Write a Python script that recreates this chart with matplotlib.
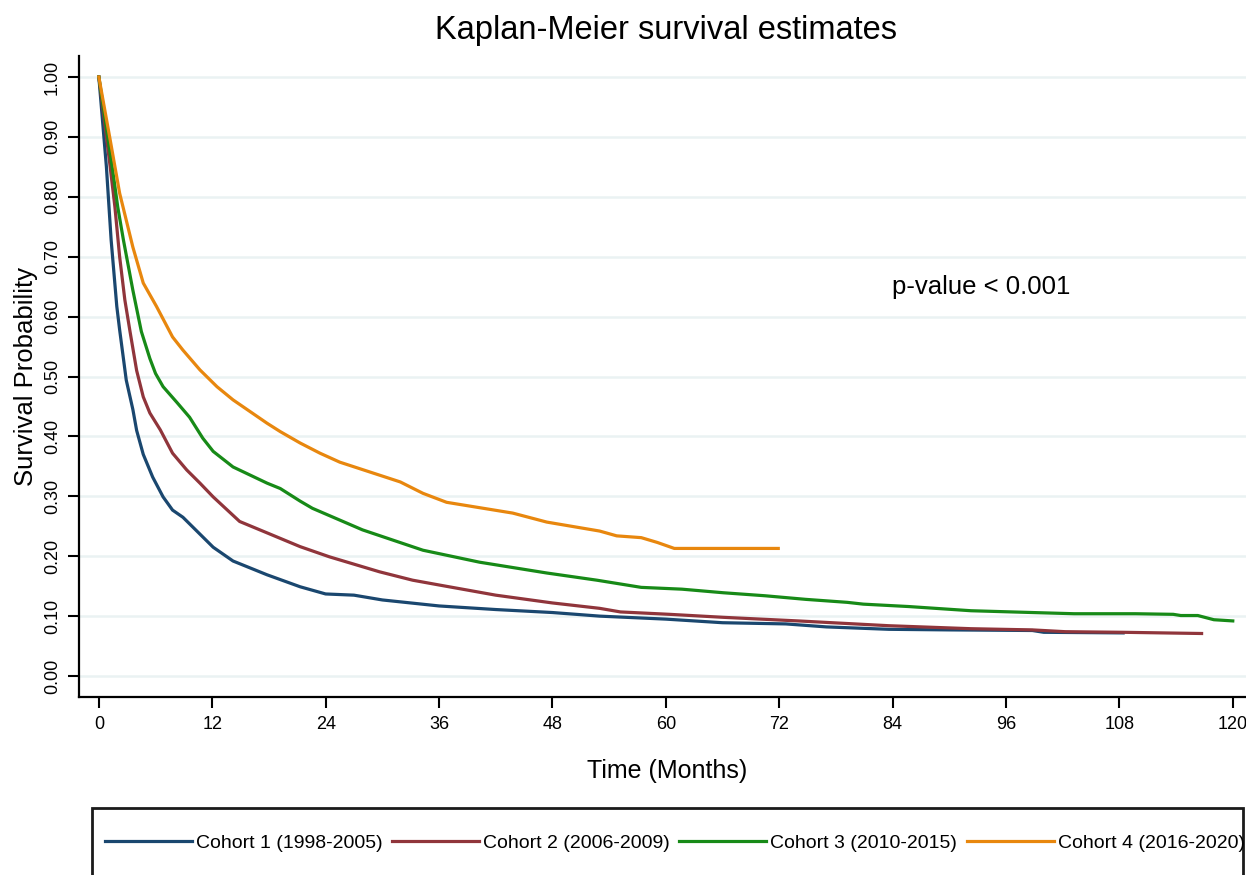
import numpy as np
import matplotlib
matplotlib.use('Agg')
import matplotlib.pyplot as plt
from matplotlib.patches import Rectangle

plt.rcParams['font.family'] = ['Liberation Sans', 'DejaVu Sans']

# Survival curves (months, survival probability)
t1 = [0, 0.8, 1.3, 1.9, 2.2, 2.9, 3.6, 4.0, 4.7, 5.7, 6.8, 7.8, 8.9, 10.5, 12.1, 14.2, 17.8, 21.3, 24, 27,
      30, 36, 42, 48, 53, 60, 66, 72.7, 77, 83.6, 90, 98.8, 100, 108.4]
s1 = [1.0, 0.85, 0.728, 0.617, 0.578, 0.494, 0.445, 0.41, 0.37, 0.332, 0.299, 0.277, 0.265, 0.24, 0.215,
      0.192, 0.169, 0.149, 0.137, 0.135, 0.127, 0.117, 0.111, 0.106, 0.100, 0.095, 0.089, 0.087, 0.082,
      0.078, 0.077, 0.076, 0.073, 0.072]

t2 = [0, 1.2, 1.7, 2.2, 2.75, 3.3, 4.0, 4.7, 5.4, 6.5, 7.8, 9.3, 10.7, 12.1, 14.9, 17.8, 21.3, 24.4, 29.7,
      33.2, 36, 42, 48, 53, 55.2, 60.4, 66.1, 74, 83.6, 92.3, 98.8, 102.3, 108.4, 116.7]
s2 = [1.0, 0.85, 0.783, 0.70, 0.628, 0.575, 0.51, 0.466, 0.439, 0.411, 0.372, 0.344, 0.322, 0.299, 0.258,
      0.239, 0.216, 0.199, 0.174, 0.160, 0.152, 0.135, 0.122, 0.113, 0.107, 0.103, 0.098, 0.092, 0.084,
      0.079, 0.077, 0.074, 0.073, 0.071]

t3 = [0, 1.5, 2.0, 2.6, 3.6, 4.5, 5.4, 6.0, 6.8, 8.3, 9.6, 11.0, 12.1, 14.2, 17.8, 19.2, 21.3, 22.6, 27.9,
      34.3, 40.3, 47.4, 52.7, 57.4, 61.7, 66.1, 70.5, 74.8, 79.2, 80.9, 85.7, 92.3, 98.8, 103.2, 109.7,
      113.7, 114.5, 116.3, 118, 120]
s3 = [1.0, 0.84, 0.783, 0.728, 0.644, 0.575, 0.53, 0.505, 0.483, 0.456, 0.432, 0.397, 0.375, 0.349, 0.322,
      0.313, 0.292, 0.280, 0.244, 0.210, 0.190, 0.172, 0.160, 0.148, 0.145, 0.139, 0.134, 0.128, 0.123,
      0.120, 0.116, 0.109, 0.106, 0.104, 0.104, 0.103, 0.101, 0.101, 0.094, 0.092]

t4 = [0, 1.2, 2.2, 2.9, 3.6, 4.7, 6.1, 7.8, 8.9, 10.7, 12.5, 14.2, 17.8, 19.2, 21.3, 23.4, 25.5, 31.9, 34.3,
      36.8, 43.8, 47.4, 53, 54.8, 57.4, 59.1, 60.9, 71.9]
s4 = [1.0, 0.895, 0.806, 0.761, 0.716, 0.656, 0.617, 0.566, 0.544, 0.511, 0.483, 0.461, 0.422, 0.408, 0.389,
      0.372, 0.357, 0.324, 0.305, 0.290, 0.272, 0.257, 0.242, 0.234, 0.231, 0.223, 0.213, 0.213]

labels = ['Cohort 1 (1998-2005)', 'Cohort 2 (2006-2009)', 'Cohort 3 (2010-2015)', 'Cohort 4 (2016-2020)']
colors = ['#1a476f', '#90353b', '#178a17', '#e8870e']
xticks = np.arange(0, 121, 12)
yticks = np.arange(0, 1.01, 0.1)

fig = plt.figure(figsize=(12.46, 8.75), dpi=100)
ax = fig.add_axes([79/1246, 1-697/875, (1246-79)/1246, (697-56)/875])

for t, s, c, lab in zip([t1, t2, t3, t4], [s1, s2, s3, s4], colors, labels):
    ax.plot(t, s, color=c, lw=2.3, label=lab, solid_joinstyle='round')

ax.set_xlim(-2.1, 121.4)
ax.set_ylim(-0.035, 1.035)
ax.set_xticks(xticks)
ax.set_xticklabels([str(v) for v in xticks], fontsize=13)
ax.set_yticks(yticks)
ax.set_yticklabels(['%.2f' % v for v in yticks], rotation=90, va='center', fontsize=13)
ax.grid(axis='y', color='#eaf2f3', lw=1.8)
ax.set_axisbelow(True)
for side in ['top', 'right']:
    ax.spines[side].set_visible(False)
for side in ['left', 'bottom']:
    ax.spines[side].set_linewidth(1.6)
ax.tick_params(axis='x', length=8, width=1.5, pad=6)
ax.tick_params(axis='y', length=8, width=1.5, pad=5)

ax.set_xlabel('Time (Months)', fontsize=18)
ax.xaxis.set_label_coords(0.504, -0.097)
ax.set_ylabel('Survival Probability', fontsize=18.5)
ax.yaxis.set_label_coords(-0.035, 0.5)

ax.text(83.9, 0.649, 'p-value < 0.001', va='center', fontsize=18.5)
fig.text(666/1246, 1-30/875, 'Kaplan-Meier survival estimates', ha='center', va='center', fontsize=23.5)

# legend box runs off the bottom of the image
fig.patches.append(Rectangle((92/1246, -0.05), (1243-92)/1246, 0.05 + 1 - 808/875,
                             transform=fig.transFigure, fill=False, ec='#1a1a1a', lw=2, clip_on=False))
fig.legend(loc='center left', bbox_to_anchor=(105/1246, 1-843/875), ncol=4, frameon=False,
           fontsize=14, handlelength=4.47, handletextpad=0.2, columnspacing=0.5,
           borderpad=0, borderaxespad=0)

fig.savefig('out.png', dpi=100, facecolor='white')
